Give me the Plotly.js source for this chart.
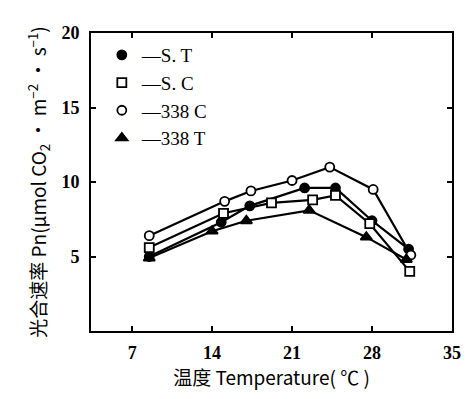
<!DOCTYPE html>
<html>
<head>
<meta charset="utf-8">
<script src="https://cdn.plot.ly/plotly-3.0.1.min.js"></script>
<style>html,body{margin:0;padding:0;background:#fff;}#chart{width:473px;height:399px;}</style>
</head>
<body>
<div id="chart"></div>
<script>
// Data
const seriesNames = ["—S. T", "—S. C", "—338 C", "—338 T"];
const xST = [8.5, 14.8, 17.3, 22.1, 24.8, 28.0, 31.2];
const yST = [5.0, 7.3, 8.4, 9.6, 9.6, 7.4, 5.5];
const xSC = [8.5, 15.0, 19.2, 22.8, 24.8, 27.8, 31.3];
const ySC = [5.6, 7.9, 8.6, 8.8, 9.1, 7.2, 4.0];
const x338C = [8.5, 15.1, 17.4, 21.0, 24.3, 28.1, 31.4];
const y338C = [6.4, 8.7, 9.4, 10.1, 11.0, 9.5, 5.1];
const x338T = [8.5, 14.0, 17.0, 22.5, 27.5, 31.0];
const y338T = [4.9, 6.7, 7.4, 8.1, 6.3, 4.8];
const xTicks = [7, 14, 21, 28, 35];
const yTicks = [5, 10, 15, 20];

const xs = [xST, xSC, x338C, x338T];
const ys = [yST, ySC, y338C, y338T];
const symbols = ["circle", "square", "circle", "triangle-up"];
const fills = ["black", "white", "white", "black"];

const traces = [];
for (let i = 0; i < 4; i++) {
  traces.push({
    x: xs[i], y: ys[i], mode: "lines", showlegend: false,
    line: {color: "black", width: 2.2}, hoverinfo: "skip"
  });
}
for (let i = 0; i < 4; i++) {
  traces.push({
    x: xs[i], y: ys[i], mode: "markers", name: seriesNames[i],
    marker: {symbol: symbols[i], size: i === 3 ? 10 : 9, color: fills[i],
             line: {color: "black", width: 1.8}}
  });
}

const serif = "Liberation Serif, Times New Roman, serif";
const cjk = "Noto Sans CJK SC, Liberation Serif, serif";
const layout = {
  width: 473, height: 399,
  margin: {l: 91, r: 21, t: 33, b: 68},
  paper_bgcolor: "white", plot_bgcolor: "white",
  showlegend: true,
  legend: {x: 0.03, y: 0.99, xanchor: "left", yanchor: "top",
           bgcolor: "rgba(0,0,0,0)", font: {family: serif, size: 19, color: "black"},
           tracegroupgap: 0, itemwidth: 30},
  xaxis: {
    range: [3.4, 35], tickvals: xTicks, ticktext: xTicks.map(String),
    ticks: "inside", ticklen: 5, tickwidth: 2, tickcolor: "black",
    showline: true, linecolor: "black", linewidth: 2, mirror: "ticks",
    showgrid: false, zeroline: false,
    tickfont: {family: serif, size: 18, color: "black", weight: "bold"},
    ticklabelstandoff: 4,
    title: {text: "温度 Temperature( ℃ )", font: {family: cjk, size: 19, color: "black"}, standoff: 8}
  },
  yaxis: {
    range: [0, 20], tickvals: yTicks, ticktext: yTicks.map(String),
    ticks: "inside", ticklen: 5, tickwidth: 2, tickcolor: "black",
    showline: true, linecolor: "black", linewidth: 2, mirror: "ticks",
    showgrid: false, zeroline: false,
    tickfont: {family: serif, size: 18, color: "black", weight: "bold"},
    ticklabelstandoff: 6,
    title: {text: "光合速率 Pn(μmol CO<sub>2</sub> • m<sup>−2</sup> • s<sup>−1</sup>)", font: {family: cjk, size: 19, color: "black"}, standoff: 10}
  }
};
Plotly.newPlot("chart", traces, layout, {displayModeBar: false, staticPlot: true});
</script>
</body>
</html>
